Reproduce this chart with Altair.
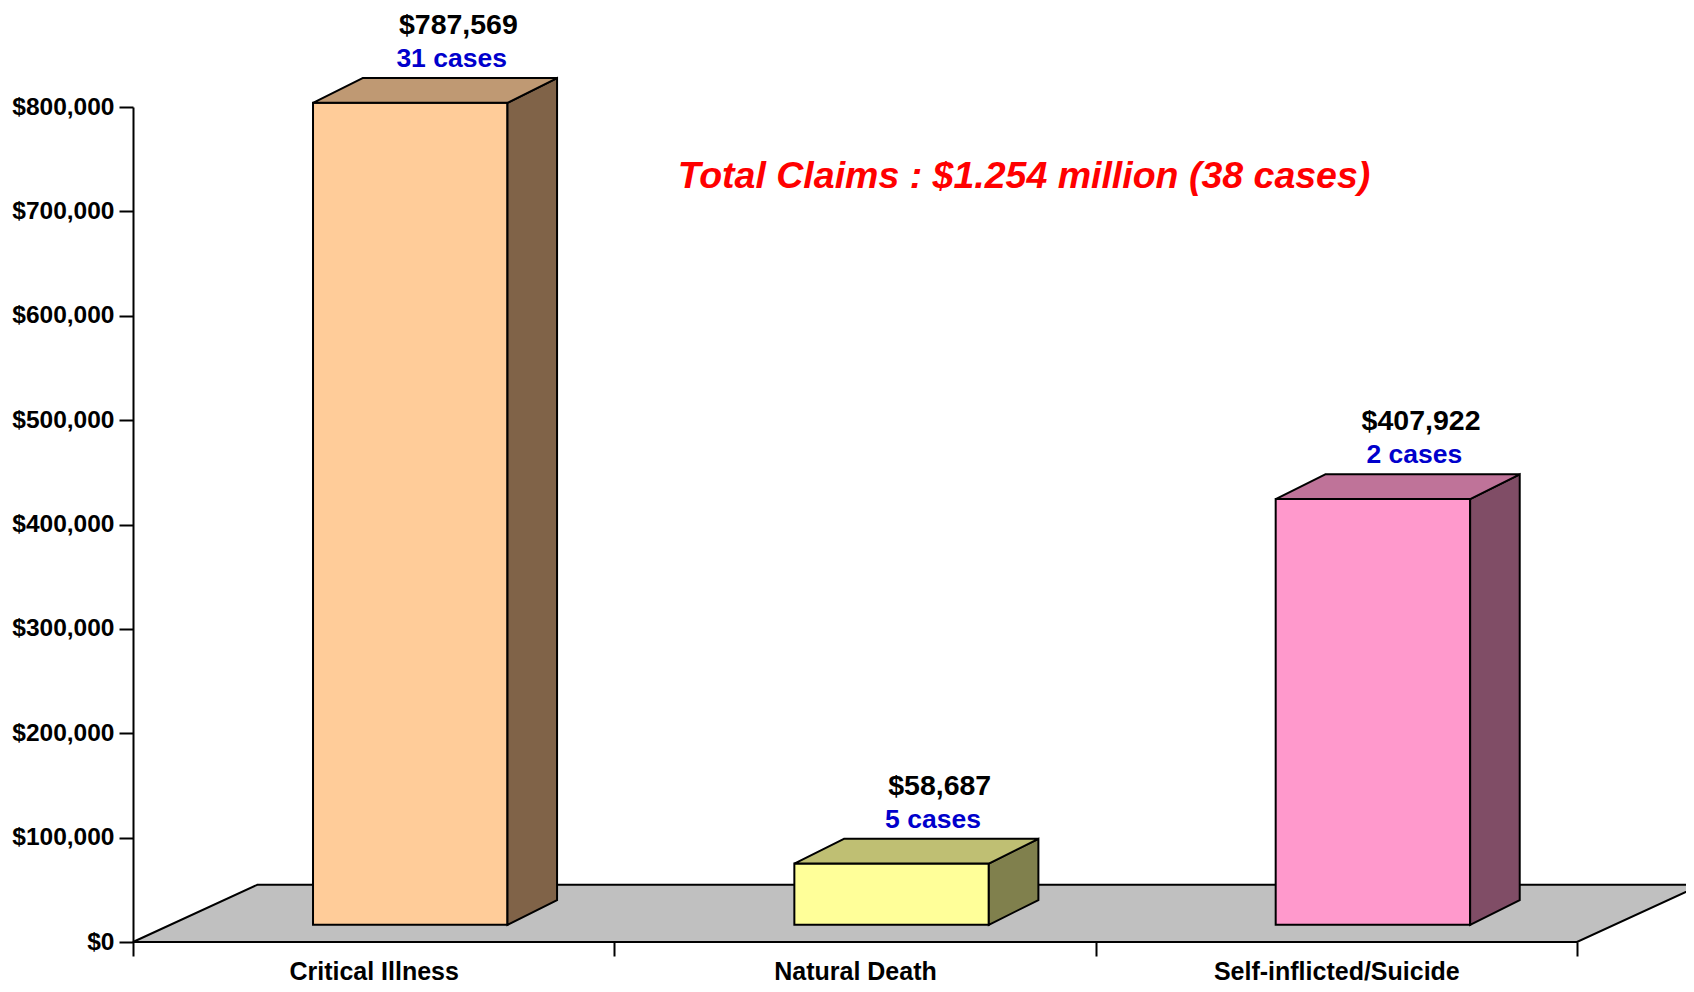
import altair as alt
import pandas as pd

# ---- data ----
categories = ["Critical Illness", "Natural Death", "Self-inflicted/Suicide"]
amounts = [787569, 58687, 407922]
cases = [31, 5, 2]
y_ticks = [0, 100000, 200000, 300000, 400000, 500000, 600000, 700000, 800000]
x_bounds = [0, 1, 2, 3]
title_text = "Total Claims : $1.254 million (38 cases)"

# ---- styles ----
front_colors = ["#FFCC99", "#FFFF99", "#FF99CC"]
top_colors = ["#BF9973", "#BFBF73", "#BF7399"]
side_colors = ["#806348", "#80804D", "#804D66"]
floor_color = "#C0C0C0"
FONT = "Liberation Sans"

# 3-D geometry (in scale units)
BAR_W = 0.404
FRONT_DX, FRONT_DY = 0.076, 16460
BAR_DX, BAR_DY = 0.103, 23700
FLOOR_DX, FLOOR_DY = 0.258, 54800

front_rows, side_rows, top_rows, lab_rows = [], [], [], []
for i, (c, v, k) in enumerate(zip(categories, amounts, cases)):
    x0 = i + 0.5 - BAR_W / 2 + FRONT_DX
    x1 = x0 + BAR_W
    yb = FRONT_DY
    yt = FRONT_DY + v
    front_rows.append(dict(cat=c, x=x0, x2=x1, y=yb, y2=yt, fill=front_colors[i]))
    side_rows.append(dict(cat=c, x=x1, y=yb, y2=yt, fill=side_colors[i]))
    side_rows.append(dict(cat=c, x=x1 + BAR_DX, y=yb + BAR_DY, y2=yt + BAR_DY, fill=side_colors[i]))
    top_rows.append(dict(cat=c, y=yt, x=x0, x2=x1, fill=top_colors[i]))
    top_rows.append(dict(cat=c, y=yt + BAR_DY, x=x0 + BAR_DX, x2=x1 + BAR_DX, fill=top_colors[i]))
    lab_rows.append(dict(cat=c, xv=i + 0.676, xc=i + 0.662, y=yt + BAR_DY,
                         val=f"${v:,}", cs=f"{k} cases"))

front_df = pd.DataFrame(front_rows)
side_df = pd.DataFrame(side_rows)
top_df = pd.DataFrame(top_rows)
lab_df = pd.DataFrame(lab_rows)
floor_df = pd.DataFrame([
    dict(y=0, x=x_bounds[0], x2=x_bounds[-1]),
    dict(y=FLOOR_DY, x=x_bounds[0] + FLOOR_DX, x2=x_bounds[-1] + FLOOR_DX),
])

xscale = alt.Scale(domain=[x_bounds[0], x_bounds[-1]], nice=False, zero=False)
yscale = alt.Scale(domain=[0, y_ticks[-1]], nice=False)

names_js = "[" + ",".join("'" + c + "'" for c in categories) + "]"
xaxis = alt.Axis(
    values=[0, 0.5, 1, 1.5, 2, 2.5, 3],
    labelExpr=f"datum.value % 1 != 0 ? {names_js}[floor(datum.value)] : ''",
    tickOpacity={"condition": {"test": "datum.value % 1 != 0", "value": 0}, "value": 1},
    domain=False, grid=False, tickSize=14, tickWidth=2, tickColor="black",
    labelFont=FONT, labelFontSize=25, labelFontWeight="bold", labelColor="black",
    labelPadding=3, labelOverlap=False, labelFlush=False, labelLimit=0, title=None,
)
yaxis = alt.Axis(
    values=y_ticks, format="$,.0f", domain=True, domainColor="black", domainWidth=2,
    grid=False, tickSize=14, tickWidth=2, tickColor="black",
    labelFont=FONT, labelFontSize=24.5, labelFontWeight="bold", labelColor="black",
    labelPadding=5, labelLimit=0, title=None,
)


def X(f):
    return alt.X(f, type="quantitative", scale=xscale, axis=xaxis, stack=None)


def Y(f):
    return alt.Y(f, type="quantitative", scale=yscale, axis=yaxis, stack=None)


floor = alt.Chart(floor_df).mark_area(
    orient="horizontal", fill=floor_color, stroke="black", strokeWidth=2
).encode(y=Y("y"), x=X("x"), x2="x2")

front = alt.Chart(front_df).mark_rect(stroke="black", strokeWidth=2).encode(
    x=X("x"), x2="x2", y=Y("y"), y2="y2", fill=alt.Fill("fill:N", scale=None)
)

side = alt.Chart(side_df).mark_area(
    orient="vertical", stroke="black", strokeWidth=2
).encode(x=X("x"), y=Y("y"), y2="y2", color=alt.Color("fill:N", scale=None),
         detail="cat:N")

top = alt.Chart(top_df).mark_area(
    orient="horizontal", stroke="black", strokeWidth=2
).encode(y=Y("y"), x=X("x"), x2="x2", color=alt.Color("fill:N", scale=None),
         detail="cat:N")

val_text = alt.Chart(lab_df).mark_text(
    font=FONT, fontSize=28.5, fontWeight="bold", color="black", dy=-53, baseline="middle"
).encode(x=X("xv"), y=Y("y"), text="val:N")

case_text = alt.Chart(lab_df).mark_text(
    font=FONT, fontSize=26.5, fontWeight="bold", color="#0000CC", dy=-19, baseline="middle"
).encode(x=X("xc"), y=Y("y"), text="cs:N")

title = alt.Chart(pd.DataFrame({"t": [title_text]})).mark_text(
    font=FONT, fontSize=37.5, fontWeight="bold", fontStyle="italic", color="#FF0000",
    baseline="middle", align="center"
).encode(x=alt.value(891), y=alt.value(70), text="t:N")

chart = alt.layer(floor, front, side, top, val_text, case_text, title).properties(
    width=1444, height=835,
    padding={"left": 125, "top": 99, "right": 109, "bottom": 42},
    autosize=alt.AutoSizeParams(type="none"),
    background="white",
).configure_view(stroke=None)

chart.save("out.html", embed_options={"renderer": "svg", "actions": False})
